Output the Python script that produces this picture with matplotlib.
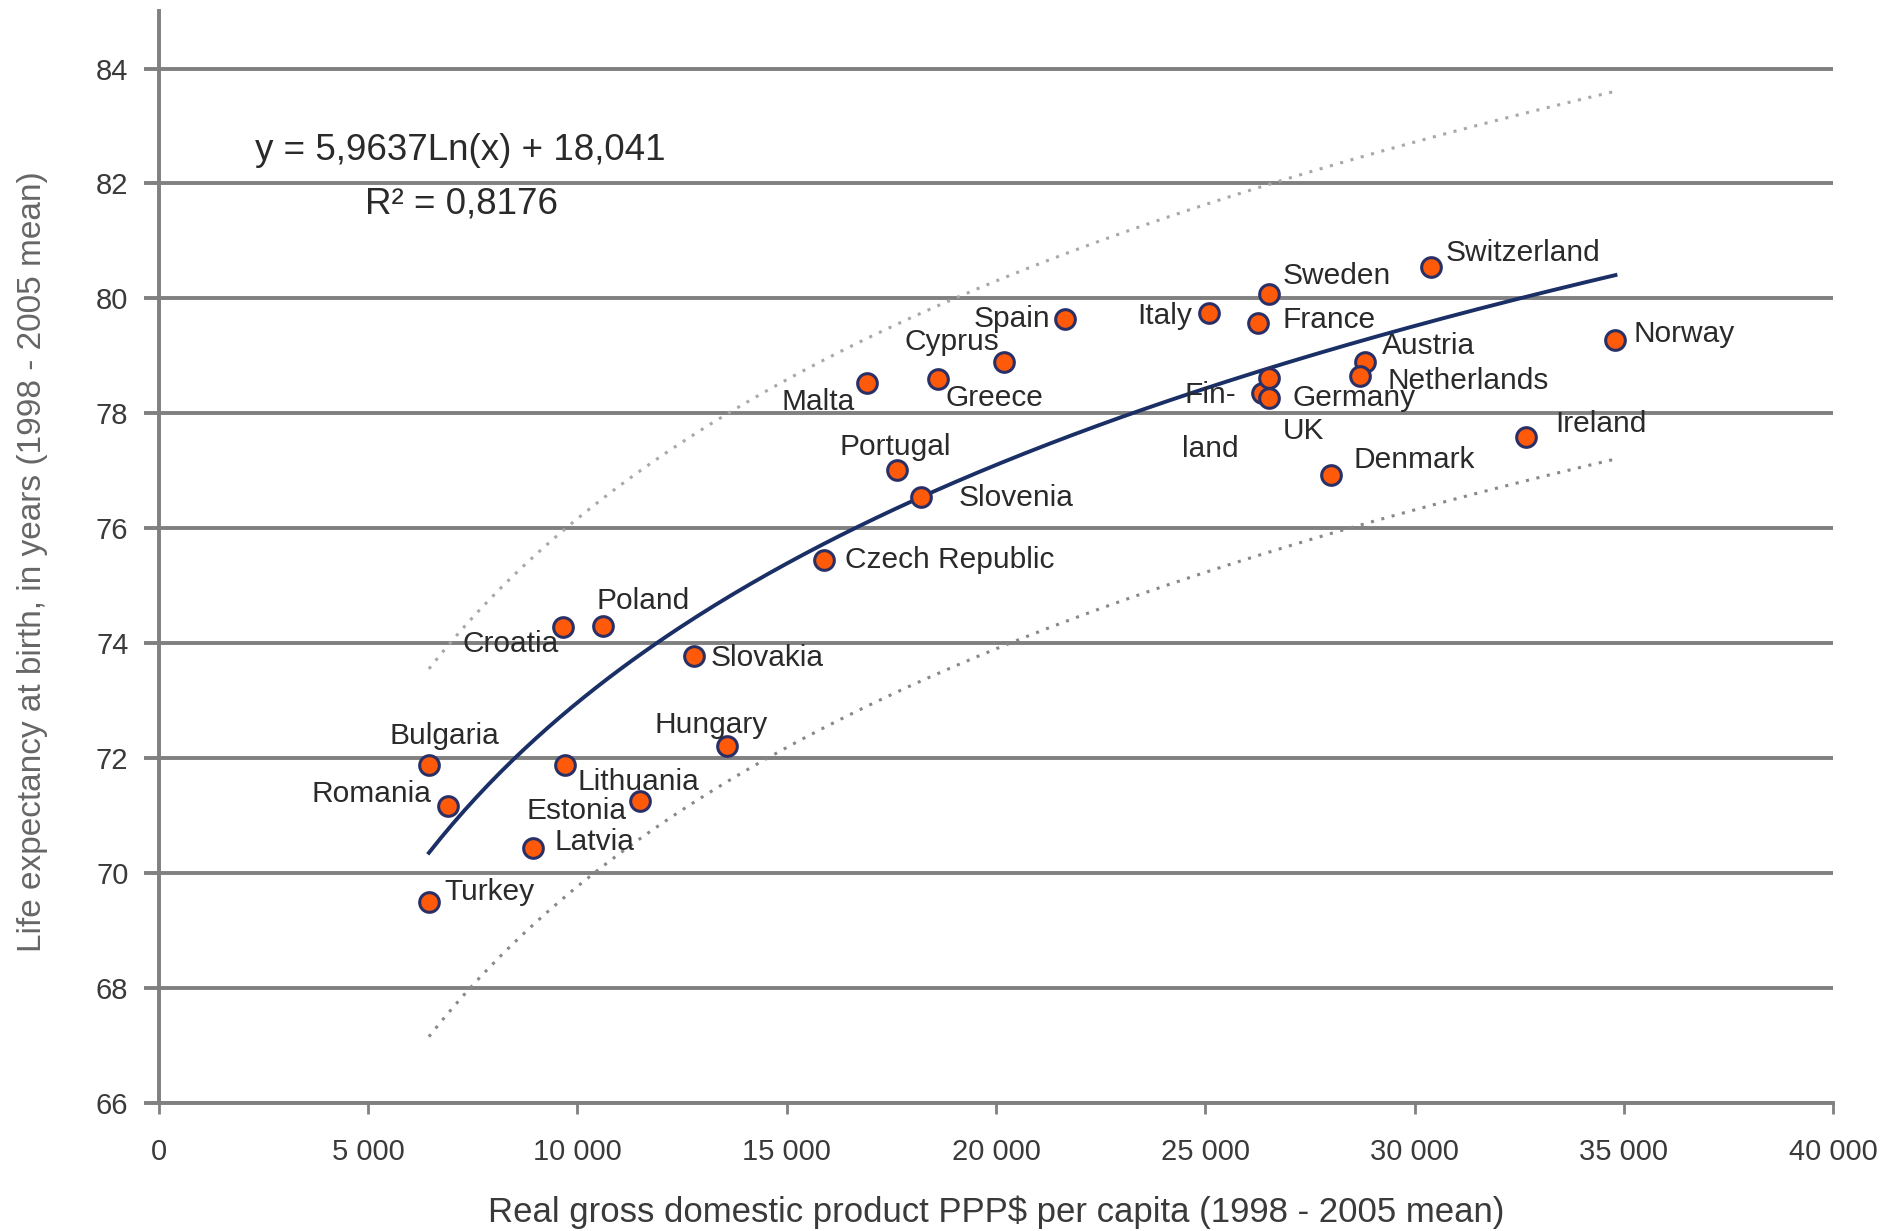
import matplotlib.pyplot as plt
import numpy as np
from matplotlib.ticker import FuncFormatter

plt.rcParams['font.family'] = ['Liberation Sans', 'DejaVu Sans']

# data
countries = ['Turkey', 'Latvia', 'Romania', 'Bulgaria', 'Lithuania', 'Estonia',
             'Hungary', 'Croatia', 'Poland', 'Slovakia', 'Czech Republic', 'Slovenia',
             'Portugal', 'Malta', 'Greece', 'Cyprus', 'Spain', 'Italy', 'Sweden',
             'France', 'Finland', 'Germany', 'UK', 'Denmark', 'Austria',
             'Netherlands', 'Switzerland', 'Ireland', 'Norway']
gdp = [6450, 8930, 6910, 6450, 9710, 11500, 13580, 9650, 10610, 12780, 15900, 18210,
       17630, 16910, 18610, 20200, 21650, 25090, 26530, 26270, 26360, 26530, 26530,
       28010, 28820, 28700, 30400, 32660, 34800]
life = [69.50, 70.43, 71.16, 71.88, 71.88, 71.25, 72.22, 74.28, 74.30, 73.78, 75.44,
        76.54, 77.02, 78.52, 78.60, 78.90, 79.64, 79.74, 80.08, 79.57, 78.35, 78.27,
        78.62, 76.92, 78.90, 78.65, 80.54, 77.59, 79.28]

# trend y = a ln(x) + b, and the dotted band around it
a, b = 5.9637, 18.041
r2 = 0.8176
band = 3.2

# label placement: offset in pixels of the reference (right, down), alignment
label_pos = {
    'Turkey': (13, -8, 'left'), 'Latvia': (18, -5, 'left'),
    'Romania': (-14, -10, 'right'), 'Bulgaria': (13, -24, 'center'),
    'Lithuania': (10, 14, 'left'), 'Estonia': (-11, 8, 'right'),
    'Hungary': (-13, -17, 'center'), 'Croatia': (-3, 14, 'right'),
    'Poland': (-5, -21, 'left'), 'Slovakia': (14, 2, 'left'),
    'Czech Republic': (17, 0, 'left'), 'Slovenia': (31, 1, 'left'),
    'Portugal': (-1, -19, 'center'), 'Malta': (-10, 15, 'right'),
    'Greece': (6, 16, 'left'), 'Cyprus': (-4, -16, 'right'),
    'Spain': (-12, 0, 'right'), 'Italy': (-14, 2, 'right'),
    'Sweden': (11, -15, 'left'), 'France': (20, -3, 'left'),
    'Finland': (-43, 24, 'center'), 'Germany': (19, 0, 'left'),
    'UK': (11, 44, 'left'), 'Denmark': (18, -13, 'left'),
    'Austria': (14, -13, 'left'), 'Netherlands': (23, 4, 'left'),
    'Switzerland': (12, -12, 'left'), 'Ireland': (24, -11, 'left'),
    'Norway': (15, -5, 'left'),
}

fig = plt.figure(figsize=(18.97, 12.31), dpi=100)
ax = fig.add_axes([0.0838, 0.104, 0.8825, 0.887])

grid_c = '#808080'
ax.set_xlim(0, 40000)
ax.set_ylim(66, 85)
ax.set_yticks(np.arange(66, 85, 2))
ax.set_xticks(np.arange(0, 40001, 5000))
ax.yaxis.grid(True, color=grid_c, linewidth=2.8)
ax.set_axisbelow(True)
for s in ['top', 'right']:
    ax.spines[s].set_visible(False)
for s in ['left', 'bottom']:
    ax.spines[s].set_color(grid_c)
    ax.spines[s].set_linewidth(2.8)
ax.tick_params(axis='y', length=11, width=2.8, color=grid_c, pad=11,
               labelsize=21, labelcolor='#3a3a3a')
ax.tick_params(axis='x', length=8, width=2, color=grid_c, pad=17,
               labelsize=21, labelcolor='#3a3a3a')
ax.xaxis.set_major_formatter(FuncFormatter(lambda v, p: f'{int(v):,}'.replace(',', ' ')))

xs = np.linspace(min(gdp), max(gdp), 200)
trend = a * np.log(xs) + b
ax.plot(xs, trend + band, linestyle=(0, (1, 2.5)), color='#a8a8a8', linewidth=2.2)
ax.plot(xs, trend - band, linestyle=(0, (1, 2.5)), color='#888888', linewidth=2.2)
ax.plot(xs, trend, color='#1a2f66', linewidth=2.8, zorder=3)

ax.scatter(gdp, life, s=200, color='#ff5a0a', edgecolors='#2a2f66',
           linewidths=2.2, zorder=4)

k = 1.21
for name, x, y in zip(countries, gdp, life):
    dx, dy, ha = label_pos[name]
    txt = 'Fin-\nland' if name == 'Finland' else name
    ax.annotate(txt, (x, y), xytext=(dx * k, -dy * k), textcoords='offset pixels',
                ha=ha, va='center', fontsize=21.5, color='#2a2a2a',
                linespacing=2.2, zorder=5)

ax.text(7200, 82.57, f'y = {a:.4f}Ln(x) + {b:.3f}'.replace('.', ','),
        ha='center', va='center', fontsize=26.5, color='#2a2a2a')
ax.text(7230, 81.64, f'R² = {r2:.4f}'.replace('.', ','),
        ha='center', va='center', fontsize=26.5, color='#2a2a2a')

ax.set_ylabel('Life expectancy at birth, in years (1998 - 2005 mean)',
              fontsize=24, color='#666666')
ax.yaxis.set_label_coords(-0.066, 0.496)
fig.text(0.525, 0.002, 'Real gross domestic product PPP$ per capita (1998 - 2005 mean)',
         ha='center', va='bottom', fontsize=25, color='#3a3a3a')

plt.savefig('out.png', dpi=100)
